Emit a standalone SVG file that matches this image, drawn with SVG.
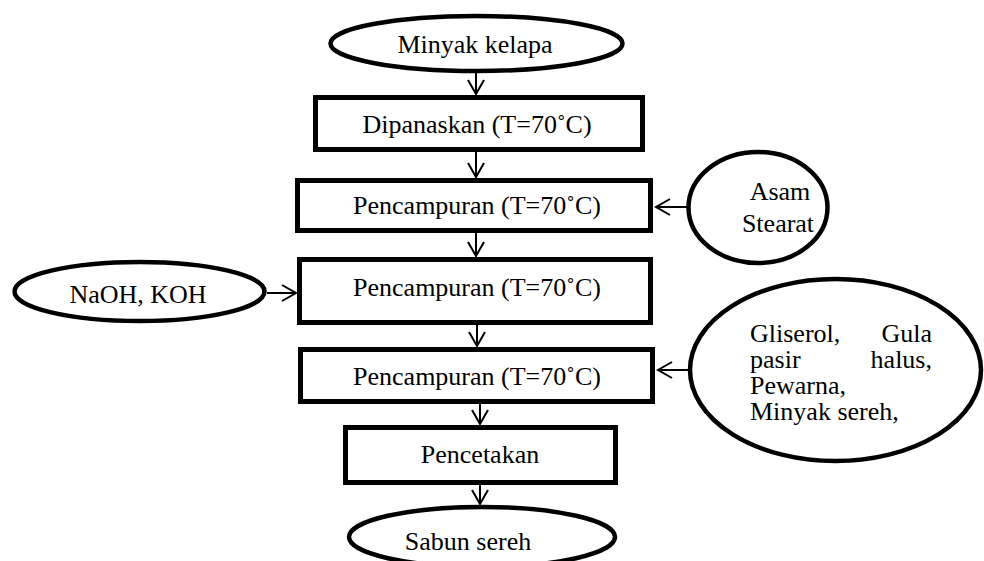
<svg xmlns="http://www.w3.org/2000/svg" width="984" height="561" viewBox="0 0 984 561">
<style>
.box{fill:#fff;stroke:#000;stroke-width:5}
.ell{fill:#fff;stroke:#000;stroke-width:4.5}
.t{font-family:"Liberation Serif","Times New Roman",serif;font-size:26px;fill:#000}
.c{text-anchor:middle}
.e{text-anchor:end}
.con line{stroke:#000;stroke-width:2}
</style>
<defs>
<marker id="ah" markerUnits="userSpaceOnUse" markerWidth="20" markerHeight="20" viewBox="-15 -10 20 20" refX="0" refY="0" orient="auto">
<path d="M-14,-8 L0,0 L-14,8" fill="none" stroke="#000" stroke-width="2"/>
</marker>
</defs>
<rect width="984" height="561" fill="#fff"/>
<g id="connectors" class="con">
<line x1="476" y1="71" x2="476" y2="94" marker-end="url(#ah)"/>
<line x1="476" y1="152" x2="476" y2="177" marker-end="url(#ah)"/>
<line x1="476" y1="233" x2="476" y2="256" marker-end="url(#ah)"/>
<line x1="477" y1="325" x2="477" y2="346" marker-end="url(#ah)"/>
<line x1="480" y1="404" x2="480" y2="424" marker-end="url(#ah)"/>
<line x1="480" y1="485" x2="480" y2="504" marker-end="url(#ah)"/>
<line x1="267" y1="293" x2="296" y2="293" marker-end="url(#ah)"/>
<line x1="687" y1="207" x2="656" y2="207" marker-end="url(#ah)"/>
<line x1="688" y1="370" x2="658" y2="370" marker-end="url(#ah)"/>
</g>
<g id="minyak">
<ellipse class="ell" cx="476.5" cy="43.5" rx="146" ry="27.5"/>
<text class="t c" x="475" y="53">Minyak kelapa</text>
</g>
<g id="dipanaskan">
<rect class="box" x="315.5" y="97.5" width="327" height="52"/>
<text class="t c" x="477" y="133">Dipanaskan (T=70˚C)</text>
</g>
<g id="pencampuran1">
<rect class="box" x="297.5" y="180.5" width="353" height="50"/>
<text class="t c" x="477" y="214">Pencampuran (T=70˚C)</text>
</g>
<g id="asam">
<ellipse class="ell" cx="758" cy="207.5" rx="69.5" ry="55.5"/>
<text class="t c" x="780" y="200">Asam</text>
<text class="t c" x="778" y="232">Stearat</text>
</g>
<g id="pencampuran2">
<rect class="box" x="299.5" y="259.5" width="351" height="63"/>
<text class="t c" x="477" y="296">Pencampuran (T=70˚C)</text>
</g>
<g id="naoh">
<ellipse class="ell" cx="139.5" cy="291.5" rx="125" ry="29.5"/>
<text class="t c" x="138" y="303">NaOH, KOH</text>
</g>
<g id="pencampuran3">
<rect class="box" x="300.5" y="349.5" width="352" height="52"/>
<text class="t c" x="477" y="385">Pencampuran (T=70˚C)</text>
</g>
<g id="gliserol">
<ellipse class="ell" cx="835.5" cy="370" rx="145.5" ry="91"/>
<text class="t" x="750" y="342">Gliserol,</text>
<text class="t e" x="932" y="342">Gula</text>
<text class="t" x="750" y="368">pasir</text>
<text class="t e" x="932" y="368">halus,</text>
<text class="t" x="750" y="394">Pewarna,</text>
<text class="t" x="750" y="420">Minyak sereh,</text>
</g>
<g id="pencetakan">
<rect class="box" x="345.5" y="427.5" width="270" height="55"/>
<text class="t c" x="480" y="463">Pencetakan</text>
</g>
<g id="sabun">
<ellipse class="ell" cx="482" cy="537" rx="133" ry="30"/>
<text class="t c" x="468" y="550">Sabun sereh</text>
</g>
</svg>
